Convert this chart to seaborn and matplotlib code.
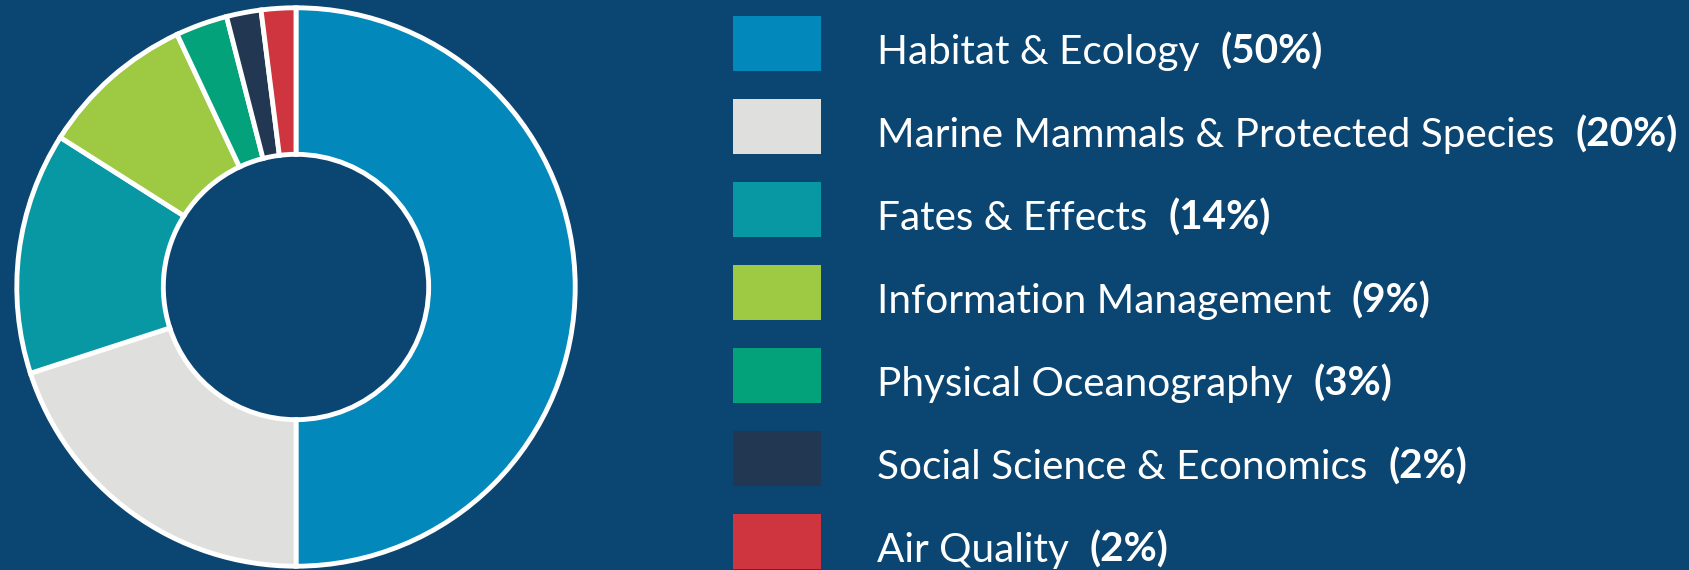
import matplotlib
matplotlib.use("Agg")
import matplotlib.pyplot as plt
import matplotlib.patches as patches
import seaborn as sns

# --- Données ---
categories = [
    "Habitat & Ecology",
    "Marine Mammals & Protected Species",
    "Fates & Effects",
    "Information Management",
    "Physical Oceanography",
    "Social Science & Economics",
    "Air Quality",
]
shares = [50, 20, 14, 9, 3, 2, 2]
colors = ["#0288BB", "#DFDFDD", "#0898A4", "#9ECA43", "#04A27B", "#223751", "#CF353E"]
bg = "#0B4571"

sns.set_theme(style="white")
palette = sns.color_palette(colors)
fonts = ["Lato", "DejaVu Sans"]
plt.rcParams["font.family"] = fonts

W, H = 1690, 570
fig = plt.figure(figsize=(W / 100, H / 100), dpi=100, facecolor=bg)

# --- Donut ---
cx, cy, r = 296, 283, 282
ax = fig.add_axes([(cx - r) / W, (cy - r) / H, 2 * r / W, 2 * r / H])
ax.set_facecolor(bg)
ax.pie(
    shares,
    colors=palette,
    startangle=90,
    counterclock=False,
    radius=1,
    wedgeprops=dict(width=1 - 134 / 282, edgecolor="white", linewidth=3.5),
)
ax.set_xlim(-1.01, 1.01)
ax.set_ylim(-1.01, 1.01)
ax.set_aspect("equal")
ax.axis("off")

# --- Légende ---
lax = fig.add_axes([0, 0, 1, 1])
lax.set_xlim(0, W)
lax.set_ylim(H, 0)
lax.axis("off")
lax.patch.set_alpha(0)

renderer = fig.canvas.get_renderer()
row0, step = 43, 83
fs = 29.2
for i, (cat, val) in enumerate(zip(categories, shares)):
    y = row0 + i * step
    lax.add_patch(patches.Rectangle((733, y - 27.5), 88, 55, facecolor=palette[i], edgecolor="none"))
    t = lax.text(877, y + 21, cat + "  ", color="white", fontsize=fs, va="baseline", ha="left", family=fonts)
    bb = t.get_window_extent(renderer=renderer)
    lax.text(bb.x1, y + 21, f"({val}%)", color="white", fontsize=fs, fontweight="bold",
             va="baseline", ha="left", family=fonts)

fig.savefig("out.png", dpi=100, facecolor=bg)
